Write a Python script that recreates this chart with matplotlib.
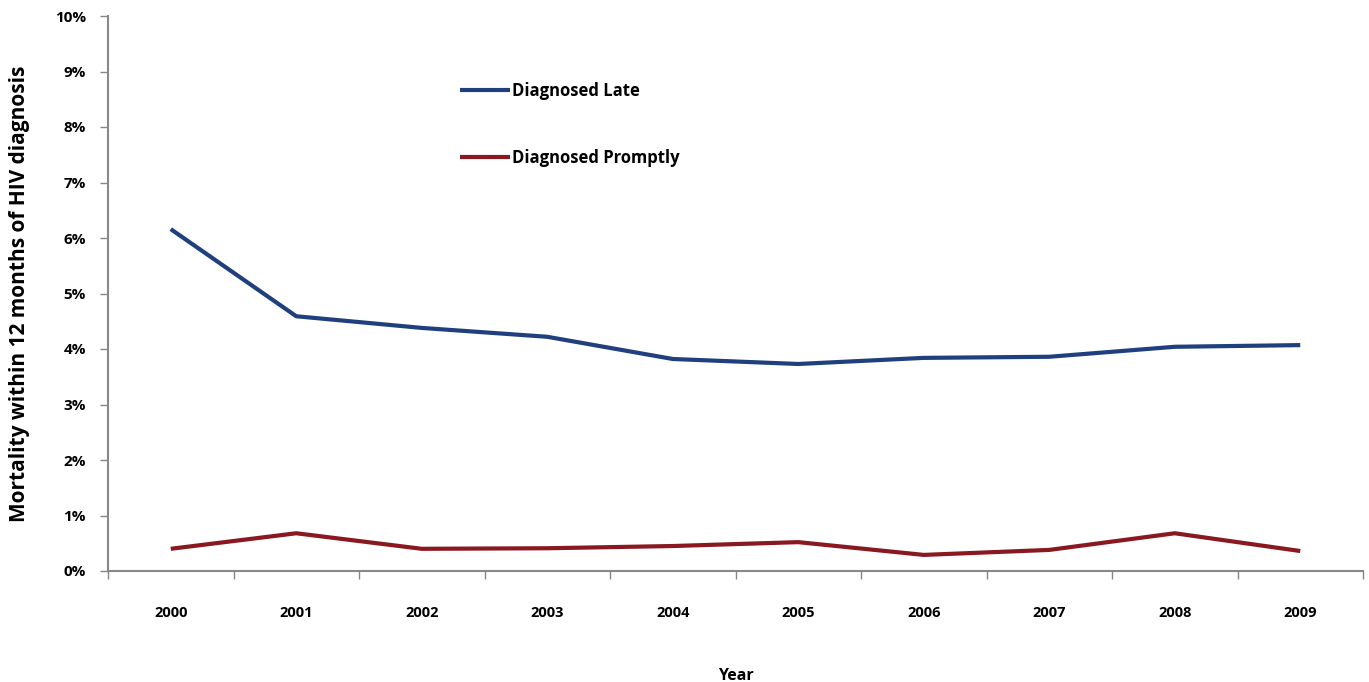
import matplotlib.pyplot as plt
from matplotlib.ticker import FuncFormatter, FixedLocator

dpi = 100

# Mortality within 12 months of HIV diagnosis, in percent
years = ["2000", "2001", "2002", "2003", "2004", "2005", "2006", "2007", "2008", "2009"]
diagnosed_late = [6.16, 4.59, 4.38, 4.22, 3.82, 3.73, 3.84, 3.86, 4.04, 4.07]
diagnosed_promptly = [0.40, 0.68, 0.40, 0.41, 0.45, 0.52, 0.29, 0.38, 0.68, 0.36]

plt.rcParams["font.family"] = ["Open Sans", "DejaVu Sans"]

fig = plt.figure(figsize=(13.69, 6.82), dpi=dpi)
ax = fig.add_axes([108 / 1369, 1 - 571 / 682, 1255 / 1369, 555 / 682])

x = range(len(years))
ax.plot(x, diagnosed_late, color="#1f3f7f", linewidth=3.0, label="Diagnosed Late",
        solid_joinstyle="round", solid_capstyle="butt")
ax.plot(x, diagnosed_promptly, color="#8a1820", linewidth=3.0, label="Diagnosed Promptly",
        solid_joinstyle="round", solid_capstyle="butt")

ax.set_xlim(-0.5, len(years) - 0.5)
ax.set_ylim(0, 10)

# Category axis: labels centred, ticks on the boundaries
ax.set_xticks(list(x))
ax.set_xticklabels(years, fontsize=10.5, fontweight="bold")
ax.xaxis.set_minor_locator(FixedLocator([i - 0.5 for i in range(len(years) + 1)]))
ax.tick_params(axis="x", which="major", length=0, pad=25)
ax.tick_params(axis="x", which="minor", length=6, width=1, color="#888888", direction="out")

ax.set_yticks(range(0, 11))
ax.yaxis.set_major_formatter(FuncFormatter(lambda v, p: f"{int(v)}%"))
ax.tick_params(axis="y", length=6, width=1, color="#888888", direction="out", pad=10)
for lbl in ax.get_yticklabels():
    lbl.set_fontsize(11)
    lbl.set_fontweight("bold")

for side in ("top", "right"):
    ax.spines[side].set_visible(False)
for side in ("left", "bottom"):
    ax.spines[side].set_color("#888888")
    ax.spines[side].set_linewidth(1.5)

ax.set_ylabel("Mortality within 12 months of HIV diagnosis", fontsize=15,
              fontweight="bold", labelpad=18)
ax.set_xlabel("Year", fontsize=11.5, fontweight="bold", labelpad=35)

leg = ax.legend(loc="upper left", bbox_to_anchor=(445 / 1369, 1 - 67 / 682),
                bbox_transform=fig.transFigure, frameon=False, handlelength=3.0,
                handletextpad=0.15, labelspacing=2.95, prop={"size": 12, "weight": "bold"})

fig.savefig("out.png", dpi=dpi)
